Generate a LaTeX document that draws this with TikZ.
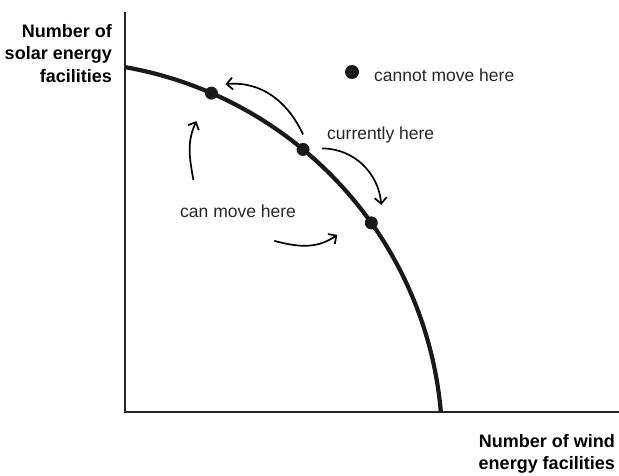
\documentclass[tikz,border=0pt]{standalone}
\usepackage{fontspec}
\setmainfont{Liberation Sans}
\usetikzlibrary{arrows.meta, positioning}

\begin{document}
\begin{tikzpicture}[
    x=1pt, y=1pt,
    font=\fontsize{17.5}{22}\selectfont,
    axis/.style={line width=1.4pt, draw=black!85},
    ppf/.style={line width=4.2pt, draw=black!90},
    arr/.style={-{Straight Barb[length=6pt, width=12pt]}, line width=1.7pt},
    dot/.style={circle, fill=black!90, inner sep=0pt, minimum size=13pt},
    axlabel/.style={font=\fontsize{18}{22.5}\selectfont\bfseries, align=right, inner sep=0pt},
    note/.style={text=black!85, inner sep=0pt},
]
    \useasboundingbox (0,0) rectangle (619,475);

    % Axes
    \coordinate (o)    at (125,63);
    \coordinate (ytop) at (125,463);
    \coordinate (xend) at (619,63);
    \draw[axis] (ytop) -- (o) -- (xend);

    \node[axlabel, anchor=north east] (ylab) at (112,451) {Number of\\solar energy\\facilities};
    \node[axlabel, anchor=north east] (xlab) at (615,41) {Number of wind\\energy facilities};

    % Frontier (circle arc)
    \coordinate (ctr) at (58.3,29.7);
    \draw[ppf] (ctr) ++(80:384) arc[start angle=80, end angle=5, radius=384];

    \path (ctr) ++(66.5:384) node[dot] (up)   {};
    \path (ctr) ++(50.4:384) node[dot] (cur)  {};
    \path (ctr) ++(35.4:384) node[dot] (down) {};
    \node[dot, minimum size=14pt] (out) at (352,403) {};

    \node[note, anchor=base west] (cannot) at (374,393) {cannot move here};
    \node[note, anchor=base west] (here)   at (327,335) {currently here};
    \node[note, anchor=base west] (can)    at (180,258) {can move here};

    % Moves along the frontier
    \coordinate (topS)  at ([shift={(0,15)}]cur.center);
    \coordinate (topE)  at ([shift={(14,9)}]up.center);
    \coordinate (rgtS)  at ([shift={(19,1)}]cur.center);
    \coordinate (rgtE)  at ([shift={(10,18)}]down.center);
    \coordinate (lftS)  at ([shift={(-18,-87)}]up.center);
    \coordinate (lftE)  at ([shift={(-15,-28)}]up.center);
    \coordinate (botS)  at ([shift={(-97,-18)}]down.center);
    \coordinate (botE)  at ([shift={(-34,-12)}]down.center);

    \draw[arr] (topS) to[out=115, in=5] (topE);
    \draw[arr] (rgtS) to[out=0, in=95] (rgtE);
    \draw[arr] (lftS) to[out=100, in=-115] (lftE);
    \draw[arr] (botS) to[out=-15, in=-145] (botE);

\end{tikzpicture}
\end{document}
